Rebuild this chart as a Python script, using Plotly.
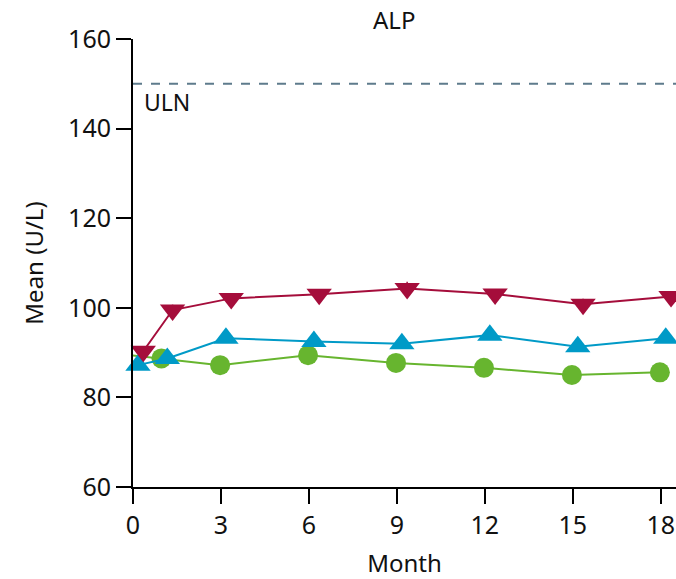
import plotly.graph_objects as go

months = [0, 1, 3, 6, 9, 12, 15, 18]
x_tick_vals = [0, 3, 6, 9, 12, 15, 18]
y_tick_vals = [60, 80, 100, 120, 140, 160]

red_offset = 0.35
blue_offset = 0.17
green_offset = -0.03

red_values = [90.3, 99.5, 102.1, 103.0, 104.3, 103.1, 100.8, 102.5]
blue_values = [87.2, 88.7, 93.2, 92.5, 92.0, 93.9, 91.3, 93.2]
green_values = [89.4, 88.7, 87.2, 89.4, 87.7, 86.6, 85.0, 85.6]

red_err = [1.0, 1.2, 1.0, 1.0, 1.5, 1.0, 1.2, 1.0]
blue_err = [0.8, 0.8, 0.8, 0.8, 0.8, 0.8, 0.8, 0.8]
green_err = [0.8, 0.8, 0.8, 1.5, 1.2, 0.8, 0.8, 0.8]

uln_value = 150

RED = "#A50D3B"
BLUE = "#009AC7"
GREEN = "#67B52F"
ULN_COLOR = "#5E7B8C"
FONT = "Noto Sans"
TXT = "#111111"

fig = go.Figure()

def add_series(offset, vals, errs, color, symbol, size):
    fig.add_trace(go.Scatter(
        x=[m + offset for m in months], y=vals,
        mode="lines+markers",
        line=dict(color=color, width=2),
        marker=dict(color=color, symbol=symbol, size=size),
        error_y=dict(type="data", array=errs, color=color, thickness=1.5, width=0),
        cliponaxis=False, showlegend=False,
    ))

add_series(green_offset, green_values, green_err, GREEN, "circle", 20)
add_series(blue_offset, blue_values, blue_err, BLUE, "triangle-up", 22)
add_series(red_offset, red_values, red_err, RED, "triangle-down", 22)

fig.add_shape(type="line", xref="paper", x0=0, x1=1, yref="y", y0=uln_value, y1=uln_value,
              line=dict(color=ULN_COLOR, width=2, dash="dash"))
fig.add_annotation(x=0.016, xref="paper", y=uln_value, yref="y", text="ULN", showarrow=False,
                   xanchor="left", yanchor="top", yshift=0, font=dict(family=FONT, size=23, color=TXT))
fig.add_annotation(x=0.48, xref="paper", y=1, yref="paper", text="ALP", showarrow=False,
                   xanchor="center", yanchor="bottom", yshift=1,
                   font=dict(family=FONT, size=24, color=TXT))

axis_common = dict(showline=True, linecolor="black", linewidth=2, ticks="outside", ticklen=15,
                   tickwidth=2, tickcolor="black", showgrid=False, zeroline=False,
                   tickfont=dict(family=FONT, size=25, color=TXT))

fig.update_xaxes(range=[0, 18.52], tickvals=x_tick_vals,
                 title=dict(text="Month", font=dict(family=FONT, size=24, color=TXT), standoff=17),
                 **axis_common)
fig.update_yaxes(range=[60, 160], tickvals=y_tick_vals,
                 title=dict(text="Mean (U/L)", font=dict(family=FONT, size=24, color=TXT), standoff=18),
                 **axis_common)

fig.update_layout(width=676, height=579, margin=dict(l=133, r=0, t=39, b=92),
                  plot_bgcolor="white", paper_bgcolor="white")

fig.write_html("out.html")
